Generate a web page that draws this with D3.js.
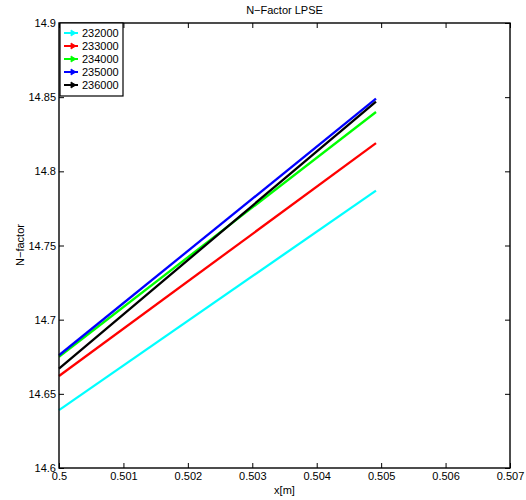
<!DOCTYPE html>
<html>
<head>
<meta charset="utf-8">
<script src="https://cdn.jsdelivr.net/npm/d3@7/dist/d3.min.js"></script>
<style>
  html, body { margin: 0; padding: 0; background: #fff; }
  svg text { font-family: "Liberation Sans", Arial, sans-serif; fill: #000; }
</style>
</head>
<body>
<svg id="chart" width="526" height="500"></svg>
<script>
// N-factor along x for each case
const seriesNames = ["232000", "233000", "234000", "235000", "236000"];
const seriesColors = ["#00ffff", "#ff0000", "#00ff00", "#0000ff", "#000000"];
const xValues = [0.5, 0.50492];
const nFactor = [
  [14.639, 14.787],
  [14.662, 14.819],
  [14.675, 14.840],
  [14.676, 14.849],
  [14.667, 14.847]
];
const xTicks = [0.5, 0.501, 0.502, 0.503, 0.504, 0.505, 0.506, 0.507];
const yTicks = [14.6, 14.65, 14.7, 14.75, 14.8, 14.85, 14.9];

const svg = d3.select("#chart");
const m = { left: 59, right: 510, top: 23, bottom: 468 };

const x = d3.scaleLinear().domain([0.5, 0.507]).range([m.left, m.right]);
const y = d3.scaleLinear().domain([14.6, 14.9]).range([m.bottom, m.top]);

const fmtX = d => String(+d.toFixed(3));
const fmtY = d => String(+d.toFixed(2));

// series lines
const line = d3.line().x(d => x(d[0])).y(d => y(d[1]));
nFactor.forEach((vals, i) => {
  svg.append("path")
    .datum(xValues.map((xv, j) => [xv, vals[j]]))
    .attr("d", line)
    .attr("fill", "none")
    .attr("stroke", seriesColors[i])
    .attr("stroke-width", 2.3);
});

// box axes with inward ticks on all sides
const tl = 5;
const bottomAxis = d3.axisBottom(x).tickValues(xTicks).tickSizeInner(-tl).tickSizeOuter(0).tickPadding(6).tickFormat(fmtX);
const topAxis = d3.axisTop(x).tickValues(xTicks).tickSizeInner(-tl).tickSizeOuter(0).tickFormat("");
const leftAxis = d3.axisLeft(y).tickValues(yTicks).tickSizeInner(-tl).tickSizeOuter(0).tickPadding(3).tickFormat(fmtY);
const rightAxis = d3.axisRight(y).tickValues(yTicks).tickSizeInner(-tl).tickSizeOuter(0).tickFormat("");

function styleAxis(g) {
  g.select(".domain").remove();
  g.selectAll("line").attr("stroke", "#000").attr("stroke-width", 1);
  g.selectAll("text").style("font-size", "11px").style("font-family", "Liberation Sans, Arial, sans-serif");
}

svg.append("g").attr("transform", `translate(0,${m.bottom})`).call(bottomAxis).call(styleAxis)
  .selectAll("text").attr("dy", "0.55em");
svg.append("g").attr("transform", `translate(0,${m.top})`).call(topAxis).call(styleAxis);
svg.append("g").attr("transform", `translate(${m.left},0)`).call(leftAxis).call(styleAxis);
svg.append("g").attr("transform", `translate(${m.right},0)`).call(rightAxis).call(styleAxis);

// frame
svg.append("rect")
  .attr("x", m.left).attr("y", m.top)
  .attr("width", m.right - m.left).attr("height", m.bottom - m.top)
  .attr("fill", "none").attr("stroke", "#000").attr("stroke-width", 1.4);

// titles
svg.append("text").attr("x", (m.left + m.right) / 2).attr("y", 14)
  .attr("text-anchor", "middle").style("font-size", "11px").text("N\u2212Factor LPSE");
svg.append("text").attr("x", (m.left + m.right) / 2).attr("y", 494)
  .attr("text-anchor", "middle").style("font-size", "11px").text("x[m]");
svg.append("text").attr("transform", "translate(24,245) rotate(-90)")
  .attr("text-anchor", "middle").style("font-size", "11px").text("N\u2212factor");

// legend
const lg = svg.append("g");
lg.append("rect").attr("x", 60).attr("y", 23).attr("width", 63).attr("height", 73)
  .attr("fill", "#fff").attr("stroke", "#000").attr("stroke-width", 1.2);
seriesNames.forEach((name, i) => {
  const cy = 33 + i * 13;
  lg.append("line").attr("x1", 64).attr("x2", 78).attr("y1", cy).attr("y2", cy)
    .attr("stroke", seriesColors[i]).attr("stroke-width", 2);
  lg.append("path")
    .attr("d", `M${71},${cy - 3} L${76},${cy} L${71},${cy + 3} Z`)
    .attr("fill", seriesColors[i]).attr("stroke", seriesColors[i]).attr("stroke-width", 0.8);
  lg.append("text").attr("x", 82).attr("y", cy).attr("dy", "0.36em")
    .style("font-size", "11px").text(name);
});
</script>
</body>
</html>
